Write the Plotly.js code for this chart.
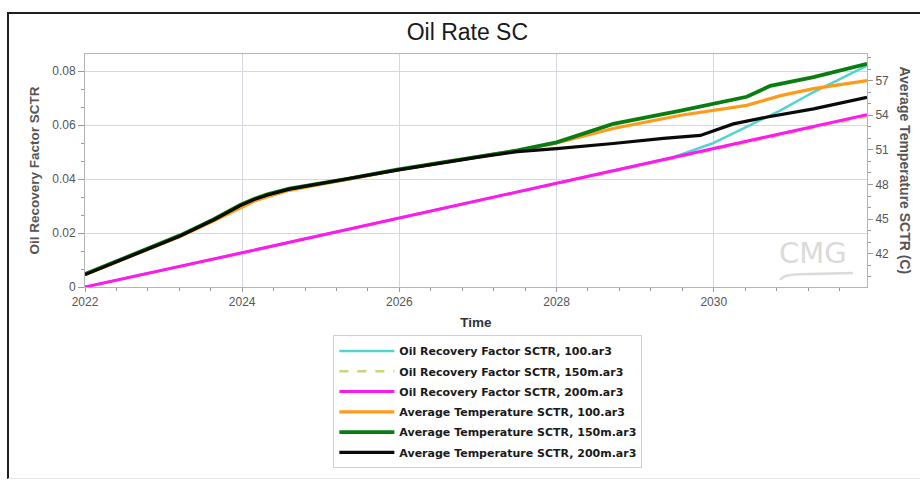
<!DOCTYPE html>
<html>
<head>
<meta charset="utf-8">
<script src="https://cdn.plot.ly/plotly-3.0.1.min.js"></script>
<style>
  html, body { margin:0; padding:0; background:#ffffff; overflow:hidden; }
  #chart { position:absolute; left:0; top:0; width:920px; height:481px; }
  #frame { position:absolute; left:7px; top:12px; width:940px; height:464px;
           border-left:2px solid #1e1e1e; border-top:2px solid #1e1e1e;
           border-bottom:1px solid #e4e4e4; pointer-events:none; }
</style>
</head>
<body>
<div id="chart"></div>
<div id="frame"></div>
<script>
// ---- Data ----
// Time in decimal years
const seriesNames = [
  "Oil Recovery Factor SCTR, 100.ar3",
  "Oil Recovery Factor SCTR, 150m.ar3",
  "Oil Recovery Factor SCTR, 200m.ar3",
  "Average Temperature SCTR, 100.ar3",
  "Average Temperature SCTR, 150m.ar3",
  "Average Temperature SCTR, 200m.ar3"
];

// Oil recovery factor (left axis)
const rf100Years  = [2022.0, 2024.0, 2028.0, 2029.0, 2029.45, 2029.98, 2030.42, 2030.85, 2031.27, 2031.95];
const rf100Values = [0.0,    0.0127, 0.0385, 0.0449, 0.0478, 0.0532, 0.0594, 0.0655, 0.0723, 0.0821];

const rf150Years  = [2022.0, 2024.0, 2028.0, 2031.95];
const rf150Values = [0.0,    0.0126, 0.0382, 0.0632];

const rf200Years  = [2022.0, 2024.0, 2028.0, 2031.95];
const rf200Values = [0.0,    0.0127, 0.0385, 0.0639];

// Average temperature (right axis, C)
const temp100Years  = [2022.0, 2022.4, 2022.79, 2023.21, 2023.64, 2023.98, 2024.15, 2024.32, 2024.6, 2024.91, 2025.34, 2025.97, 2026.5, 2027.03, 2027.5, 2028.0, 2028.72, 2029.58, 2029.98, 2030.42, 2030.85, 2031.27, 2031.95];
const temp100Values = [40.2,   41.3,   42.4,    43.5,    44.85,   46.0,    46.55,   46.95,   47.5,   47.9,    48.45,   49.25,   49.85,  50.4,    50.95,  51.6,   52.85,   54.0,    54.4,    54.85,   55.7,    56.3,    57.0];

const temp150Years  = [2022.0, 2022.4, 2022.79, 2023.21, 2023.64, 2023.98, 2024.15, 2024.32, 2024.6, 2024.91, 2025.34, 2025.97, 2026.5, 2027.03, 2027.5, 2028.0, 2028.72, 2029.58, 2029.98, 2030.42, 2030.58, 2030.72, 2031.27, 2031.95];
const temp150Values = [40.25,  41.35,  42.45,   43.6,    45.0,    46.25,   46.75,   47.15,   47.65,  48.0,    48.5,    49.3,    49.9,   50.45,   50.95,  51.65,  53.25,   54.4,    55.0,    55.6,    56.1,    56.55,   57.3,    58.45];

const temp200Years  = [2022.0, 2022.4, 2022.79, 2023.21, 2023.64, 2023.98, 2024.15, 2024.32, 2024.6, 2024.91, 2025.34, 2025.97, 2026.5, 2027.03, 2027.5, 2028.0, 2028.72, 2029.36, 2029.83, 2030.25, 2030.68, 2031.27, 2031.95];
const temp200Values = [40.2,   41.3,   42.4,    43.55,   44.95,   46.2,    46.7,    47.1,    47.6,   47.95,   48.5,    49.25,   49.85,  50.4,    50.85,  51.1,   51.55,   52.0,    52.25,   53.25,   53.85,   54.55,   55.55];

const xTickVals  = [2022, 2024, 2026, 2028, 2030];
const xTickText  = ["2022", "2024", "2026", "2028", "2030"];
const y1TickVals = [0, 0.02, 0.04, 0.06, 0.08];
const y1TickText = ["0", "0.02", "0.04", "0.06", "0.08"];
const y2TickVals = [42, 45, 48, 51, 54, 57];

// ---- Traces ----
const traces = [
  { x: rf100Years, y: rf100Values, name: seriesNames[0], legendgroup: "g0", type: "scatter", mode: "lines",
    line: { color: "#4FD4CF", width: 2.5 }, yaxis: "y" },
  { x: rf150Years, y: rf150Values, name: seriesNames[1], legendgroup: "g1", type: "scatter", mode: "lines",
    line: { color: "#C5D77A", width: 2.5, dash: "dash" }, yaxis: "y" },
  { x: rf200Years, y: rf200Values, name: seriesNames[2], legendgroup: "g2", type: "scatter", mode: "lines",
    line: { color: "#FF18F0", width: 3 }, yaxis: "y" },
  { x: temp100Years, y: temp100Values, name: seriesNames[3], legendgroup: "g3", type: "scatter", mode: "lines",
    line: { color: "#FF9A1A", width: 3.2 }, yaxis: "y2" },
  { x: temp150Years, y: temp150Values, name: seriesNames[4], legendgroup: "g4", type: "scatter", mode: "lines",
    line: { color: "#0A7D12", width: 3.8 }, yaxis: "y2" },
  { x: temp200Years, y: temp200Values, name: seriesNames[5], legendgroup: "g5", type: "scatter", mode: "lines",
    line: { color: "#0A0A0A", width: 3.2 }, yaxis: "y2" }
];

const FONT = "Liberation Sans, Arial, sans-serif";
const tickFont = { family: FONT, size: 12, color: "#555555" };
const gridCol = "#d6d6de";

const layout = {
  width: 920, height: 481,
  paper_bgcolor: "rgba(0,0,0,0)",
  plot_bgcolor: "#ffffff",
  margin: { l: 85, r: 53, t: 54, b: 192, pad: 0 },
  showlegend: true,
  title: {
    text: "Oil Rate SC",
    x: 0.508, xref: "container", xanchor: "center",
    y: 0.934, yref: "container", yanchor: "middle",
    font: { family: FONT, size: 23, color: "#1a1a1a" }
  },
  xaxis: {
    range: [2022, 2031.95],
    tickmode: "array", tickvals: xTickVals, ticktext: xTickText,
    ticks: "outside", ticklen: 4, tickcolor: "#9a9a9a",
    minor: { dtick: 0.4, tick0: 2022, ticks: "outside", ticklen: 3, tickcolor: "#9a9a9a", showgrid: false },
    showgrid: true, gridcolor: gridCol, gridwidth: 1,
    showline: true, linecolor: "#b4b4b4", linewidth: 1, mirror: true,
    zeroline: false,
    tickfont: tickFont,
    title: { text: "Time", standoff: 9,
      font: { family: FONT, size: 13.5, color: "#333333", weight: "bold" } }
  },
  yaxis: {
    range: [0, 0.0864],
    tickmode: "array", tickvals: y1TickVals, ticktext: y1TickText,
    ticks: "outside", ticklen: 6, tickcolor: "#9a9a9a",
    minor: { dtick: 0.02 / 3, tick0: 0, ticks: "outside", ticklen: 3, tickcolor: "#9a9a9a", showgrid: false },
    showgrid: true, gridcolor: gridCol, gridwidth: 1,
    showline: true, linecolor: "#b4b4b4", linewidth: 1,
    zeroline: false,
    tickfont: tickFont,
    title: { text: "Oil Recovery Factor SCTR", standoff: 9,
      font: { family: FONT, size: 13.5, color: "#555555", weight: "bold" } }
  },
  yaxis2: {
    overlaying: "y", side: "right",
    range: [39.13, 59.3],
    tickmode: "array", tickvals: y2TickVals,
    ticks: "outside", ticklen: 5, tickcolor: "#9a9a9a",
    minor: { dtick: 1, tick0: 42, ticks: "outside", ticklen: 3, tickcolor: "#9a9a9a", showgrid: false },
    showgrid: false, showline: true, linecolor: "#b4b4b4", linewidth: 1,
    zeroline: false,
    tickfont: tickFont
  },
  legend: {
    x: 0.3176, xref: "paper", xanchor: "left",
    y: -0.208, yref: "paper", yanchor: "top",
    bgcolor: "#ffffff", bordercolor: "#cfcfcf", borderwidth: 1,
    font: { family: "DejaVu Sans, sans-serif", size: 11, color: "#1a1a1a", weight: "bold" },
    traceorder: "grouped",
    tracegroupgap: 1.3,
    itemwidth: 55
  },
  annotations: [
    { text: "Average Temperature SCTR (C)", xref: "paper", yref: "paper",
      x: 1.0486, y: 0.5, xanchor: "center", yanchor: "middle", textangle: 90, showarrow: false,
      font: { family: FONT, size: 14, color: "#555555", weight: "bold" } },
    { text: "CMG", xref: "paper", yref: "paper", x: 0.931, y: 0.145,
      xanchor: "center", yanchor: "middle", showarrow: false,
      font: { family: "DejaVu Sans, sans-serif", size: 29, color: "#dadada" } }
  ],
  shapes: [
    { type: "path", xref: "paper", yref: "paper",
      path: "M 0.889 0.03 Q 0.893 0.055 0.915 0.055 L 0.982 0.06",
      line: { color: "#dadada", width: 2.5 } }
  ]
};

Plotly.newPlot("chart", traces, layout, { displayModeBar: false, responsive: false, staticPlot: true });
</script>
</body>
</html>
